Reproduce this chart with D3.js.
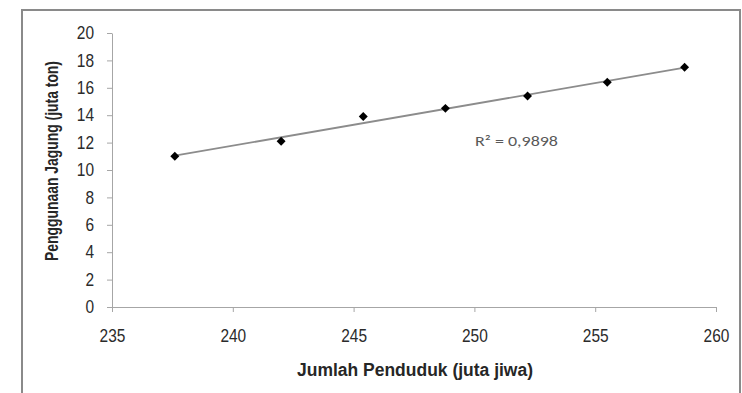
<!DOCTYPE html>
<html>
<head>
<meta charset="utf-8">
<script src="https://cdn.jsdelivr.net/npm/d3@7"></script>
<style>
  html, body { margin: 0; padding: 0; background: #fff; }
  svg { display: block; }
  .tick text { font-family: "Liberation Sans Narrow", "Arial Narrow", "Liberation Sans", sans-serif; font-size: 18px; fill: #2b2b2b; }
  .axis-title { font-family: "Liberation Sans Narrow", "Arial Narrow", "Liberation Sans", sans-serif; font-size: 18px; font-weight: bold; fill: #262626; }
</style>
</head>
<body>
<svg id="chart" width="742" height="393"></svg>
<script>
// Population (million people) vs. corn use (million tonnes)
const penduduk = [237.6, 242.0, 245.4, 248.8, 252.2, 255.5, 258.7];
const jagung   = [11.0, 12.1, 13.9, 14.5, 15.4, 16.4, 17.5];
const xTicks = [235, 240, 245, 250, 255, 260];
const yTicks = [0, 2, 4, 6, 8, 10, 12, 14, 16, 18, 20];
const r2Label = "R² = 0,9898";

const svg = d3.select("#chart");

// outer chart frame
svg.append("rect")
  .attr("x", 22).attr("y", 10).attr("width", 718).attr("height", 400)
  .attr("fill", "none").attr("stroke", "#8a8a8a").attr("stroke-width", 2);

const x = d3.scaleLinear().domain([235, 260]).range([112, 716]);
const y = d3.scaleLinear().domain([0, 20]).range([307, 33]);

const axisColor = "#a6a6a6";
const squeeze = 0.86; // condensed look for tick labels

const gx = svg.append("g").attr("transform", `translate(0,${y(0)})`)
  .call(d3.axisBottom(x).tickValues(xTicks).tickSize(5).tickPadding(17).tickSizeOuter(0));
const gy = svg.append("g").attr("transform", `translate(${x(235)},0)`)
  .call(d3.axisLeft(y).tickValues(yTicks).tickSize(5).tickPadding(13).tickSizeOuter(0));
[gx, gy].forEach(g => {
  g.select(".domain").attr("stroke", axisColor);
  g.selectAll(".tick line").attr("stroke", axisColor);
});
gx.selectAll(".tick text").attr("transform", `scale(${squeeze},1)`);
gy.selectAll(".tick text").attr("x", -18 / squeeze).attr("transform", `scale(${squeeze},1)`);

// linear trendline over the data range
const mx = d3.mean(penduduk), my = d3.mean(jagung);
const sxy = d3.sum(penduduk, (v, i) => (v - mx) * (jagung[i] - my));
const sxx = d3.sum(penduduk, v => (v - mx) ** 2);
const slope = sxy / sxx, intercept = my - slope * mx;
const xs = d3.extent(penduduk);
svg.append("line")
  .attr("x1", x(xs[0])).attr("y1", y(intercept + slope * xs[0]))
  .attr("x2", x(xs[1])).attr("y2", y(intercept + slope * xs[1]))
  .attr("stroke", "#8c8c8c").attr("stroke-width", 1.8);

// diamond markers (square turned 45°)
svg.append("g").selectAll("path")
  .data(penduduk.map((v, i) => [v, jagung[i]]))
  .join("path")
  .attr("d", d3.symbol(d3.symbolSquare, 40))
  .attr("transform", d => `translate(${x(d[0])},${y(d[1])}) rotate(45)`)
  .attr("fill", "#000");

svg.append("text")
  .attr("x", 475).attr("y", 146)
  .attr("font-family", "Carlito, 'Open Sans', 'Liberation Sans', sans-serif")
  .attr("font-size", 14).attr("fill", "#595959")
  .attr("textLength", 83).attr("lengthAdjust", "spacingAndGlyphs")
  .text(r2Label);

svg.append("text").attr("class", "axis-title")
  .attr("x", 415).attr("y", 376).attr("text-anchor", "middle")
  .attr("textLength", 236).attr("lengthAdjust", "spacingAndGlyphs")
  .text("Jumlah Penduduk (juta jiwa)");

svg.append("text").attr("class", "axis-title")
  .attr("transform", `translate(58,161) rotate(-90)`)
  .attr("text-anchor", "middle")
  .attr("font-size", 19)
  .attr("textLength", 200).attr("lengthAdjust", "spacingAndGlyphs")
  .text("Penggunaan Jagung (juta ton)");
</script>
</body>
</html>
